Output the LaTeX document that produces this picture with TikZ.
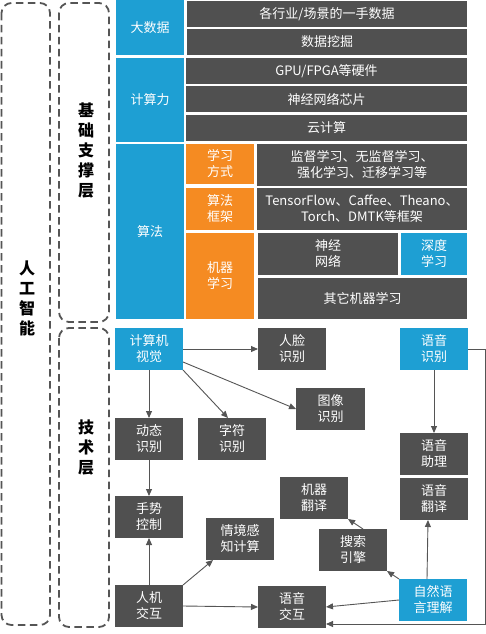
\documentclass[tikz,border=0pt]{standalone}
\usepackage{fontspec}
\setmainfont{Noto Sans CJK SC}
\usetikzlibrary{arrows.meta}
\definecolor{cblue}{HTML}{1E9FD3}
\definecolor{cdark}{HTML}{505050}
\definecolor{corange}{HTML}{F58B22}
\definecolor{cline}{HTML}{555555}
\newcommand\bx[7]{\node[#2, anchor=north west, minimum width={(#5-#3)*1pt}, minimum height={(#6-#4)*1pt}] (#1) at (#3,#4) {#7};}
\tikzset{
  boxbase/.style={inner sep=0pt, outer sep=0pt, text=white, align=center, font=\fontsize{13}{16}\selectfont},
  bluebox/.style={boxbase, fill=cblue},
  darkbox/.style={boxbase, fill=cdark},
  orangebox/.style={boxbase, fill=corange},
  frame/.style={draw=cline, line width=1.8pt, dash pattern=on 7.5pt off 4.5pt, rounded corners=10pt},
  layertext/.style={align=center, font=\fontsize{16}{20}\selectfont\bfseries, text=black},
  conn/.style={draw=cline, line width=0.9pt, -{Triangle[width=6pt,length=7pt]}}
}
\begin{document}
\begin{tikzpicture}[x=1pt,y=-1pt]
\useasboundingbox (0,0) rectangle (486,634);
% frames
\draw[frame] (1.5,3) rectangle (50,625);
\draw[frame] (59,3) rectangle (109,322);
\draw[frame] (59,328) rectangle (109,627);
\node[layertext] (ai) at (27,298) {人\\工\\智\\能};
\node[layertext] (base) at (86,151) {基\\础\\支\\撑\\层};
\node[layertext] (tech) at (86,448) {技\\术\\层};
% base layer
\bx{bd}{bluebox}{116}{0}{184}{55}{大数据}
\bx{bd1}{darkbox}{187}{1}{467}{27}{各行业/场景的一手数据}
\bx{bd2}{darkbox}{187}{29}{467}{55}{数据挖掘}
\bx{cp}{bluebox}{116}{58}{184}{142}{计算力}
\bx{cp1}{darkbox}{186}{58}{467}{84}{GPU/FPGA等硬件}
\bx{cp2}{darkbox}{186}{86}{467}{112}{神经网络芯片}
\bx{cp3}{darkbox}{186}{115}{467}{141}{云计算}
\bx{al}{bluebox}{116}{144}{184}{319}{算法}
\bx{lm}{orangebox}{186}{144}{254}{184}{学习\\方式}
\bx{lm1}{darkbox}{257}{144}{467}{186}{监督学习、无监督学习、\\强化学习、迁移学习等}
\bx{fw}{orangebox}{186}{188}{254}{230}{算法\\框架}
\bx{fw1}{darkbox}{257}{188}{467}{230}{TensorFlow、Caffee、Theano、\\Torch、DMTK等框架}
\bx{ml}{orangebox}{186}{233}{254}{319}{机器\\学习}
\bx{nn}{darkbox}{258}{233}{398}{275}{神经\\网络}
\bx{dl}{bluebox}{401}{233}{467}{275}{深度\\学习}
\bx{oml}{darkbox}{258}{278}{467}{319}{其它机器学习}
% tech layer
\bx{cv}{bluebox}{115}{328}{183}{370}{计算机\\视觉}
\bx{face}{darkbox}{258}{328}{326}{370}{人脸\\识别}
\bx{sr}{bluebox}{400}{328}{468}{370}{语音\\识别}
\bx{img}{darkbox}{296}{388}{365}{430}{图像\\识别}
\bx{dyn}{darkbox}{115}{418}{183}{460}{动态\\识别}
\bx{chr}{darkbox}{198}{418}{266}{460}{字符\\识别}
\bx{sa}{darkbox}{400}{433}{468}{475}{语音\\助理}
\bx{mt}{darkbox}{280}{477}{348}{519}{机器\\翻译}
\bx{st}{darkbox}{400}{478}{468}{520}{语音\\翻译}
\bx{gc}{darkbox}{115}{496}{183}{538}{手势\\控制}
\bx{ctx}{darkbox}{206}{518}{274}{560}{情境感\\知计算}
\bx{se}{darkbox}{319}{529}{387}{571}{搜索\\引擎}
\bx{nlu}{bluebox}{399}{579}{467}{621}{自然语\\言理解}
\bx{hci}{darkbox}{115}{585}{183}{627}{人机\\交互}
\bx{vi}{darkbox}{258}{586}{326}{628}{语音\\交互}
\coordinate (r1) at (485,349);
\coordinate (r2) at (485,624);
% connectors
\draw[conn] (cv.east) -- (face.west);
\draw[conn] ([yshift=-13pt]cv.east) -- (img.west);
\draw[conn] (cv.south east) -- ([xshift=-4pt]chr.north);
\draw[conn] (cv.south) -- (dyn.north);
\draw[conn] (dyn.south) -- (gc.north);
\draw[conn] (hci.north) -- (gc.south);
\draw[conn] (hci.north east) -- ([xshift=7pt]ctx.south west);
\draw[conn] (hci.east) -- (vi.west);
\draw[conn] (nlu.west) -- (vi.east);
\draw[conn] (nlu.north west) -- (se.south east);
\draw[conn] ([xshift=10pt]se.north) -- (mt.south east);
\draw[conn] ([xshift=-6pt]nlu.north) -- ([xshift=-6pt]st.south);
\draw[conn] (sr.south) -- (sa.north);
\draw[conn] (sr.east) -- (r1) -- (r2) -- (vi.east |- r2);
\end{tikzpicture}
\end{document}
